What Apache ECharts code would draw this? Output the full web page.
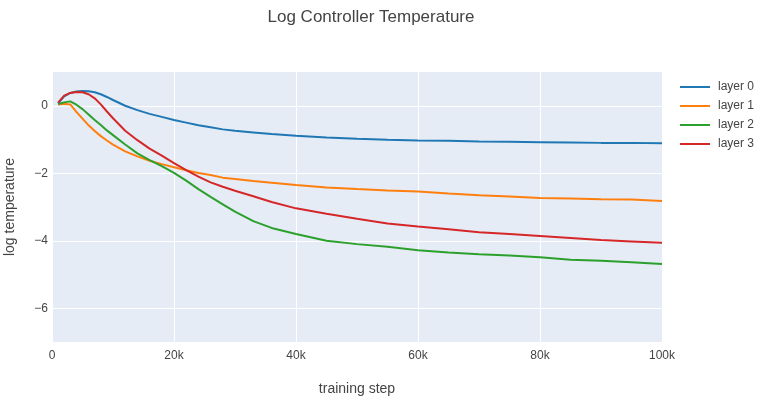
<!DOCTYPE html>
<html>
<head>
	<meta charset="UTF-8">
	<title>Log Controller Temperature</title>
	<script src="https://cdn.jsdelivr.net/npm/echarts@6/dist/echarts.min.js"></script>
	<style>
		html, body { margin: 0; padding: 0; background: #fff; }
		#chart { width: 762px; height: 401px; }
	</style>
</head>
<body>
<div id="chart"></div>
<script type="text/javascript">
// training steps (in thousands)
var stepsK = [1, 2, 3, 4, 5, 6, 7, 8, 9, 10, 12, 14, 16, 18, 20, 22, 24, 26, 28, 30,
	33, 36, 40, 45, 50, 55, 60, 65, 70, 75, 80, 85, 90, 95, 100];

var layer0 = [0.07, 0.28, 0.38, 0.42, 0.44, 0.43, 0.40, 0.34, 0.26, 0.17, 0.0, -0.13, -0.24, -0.33, -0.42, -0.50, -0.58, -0.64, -0.70, -0.74,
	-0.79, -0.84, -0.89, -0.94, -0.98, -1.01, -1.03, -1.04, -1.06, -1.07, -1.08, -1.09, -1.10, -1.10, -1.11];
var layer1 = [0.04, 0.06, 0.04, -0.18, -0.38, -0.58, -0.75, -0.90, -1.03, -1.15, -1.35, -1.50, -1.63, -1.73, -1.82, -1.91, -1.99, -2.05, -2.13, -2.17,
	-2.23, -2.28, -2.35, -2.42, -2.47, -2.51, -2.54, -2.60, -2.65, -2.69, -2.73, -2.75, -2.77, -2.78, -2.82];
var layer2 = [0.05, 0.10, 0.13, 0.03, -0.10, -0.26, -0.42, -0.57, -0.73, -0.87, -1.15, -1.41, -1.61, -1.79, -1.99, -2.22, -2.47, -2.70, -2.92, -3.14,
	-3.42, -3.62, -3.80, -4.00, -4.10, -4.18, -4.28, -4.35, -4.40, -4.44, -4.49, -4.56, -4.59, -4.64, -4.69];
var layer3 = [0.09, 0.30, 0.38, 0.41, 0.40, 0.34, 0.22, 0.04, -0.17, -0.37, -0.74, -1.02, -1.27, -1.48, -1.70, -1.91, -2.10, -2.27, -2.40, -2.52,
	-2.68, -2.85, -3.04, -3.20, -3.35, -3.49, -3.58, -3.66, -3.75, -3.80, -3.86, -3.92, -3.98, -4.02, -4.06];

var layerNames = ["layer 0", "layer 1", "layer 2", "layer 3"];
var layerColors = ["#1f77b4", "#ff7f0e", "#2ca02c", "#d62728"];
var yTicks = [-6, -4, -2, 0];

function pairs(vals) {
	var out = [];
	for (var i = 0; i < stepsK.length; i++) {
		out.push([stepsK[i] * 1000, vals[i]]);
	}
	return out;
}

var allLayers = [layer0, layer1, layer2, layer3];
var series = [];
for (var s = 0; s < allLayers.length; s++) {
	series.push({
		name: layerNames[s],
		type: 'line',
		data: pairs(allLayers[s]),
		symbol: 'none',
		showSymbol: false,
		lineStyle: { width: 2, color: layerColors[s] },
		itemStyle: { color: layerColors[s] }
	});
}

var font = "'Liberation Sans', Arial, sans-serif";
var myChart = echarts.init(document.getElementById('chart'));
var option = {
	animation: false,
	backgroundColor: '#fff',
	title: {
		text: 'Log Controller Temperature',
		left: 366,
		top: 4,
		textAlign: 'center',
		textStyle: { fontFamily: font, fontSize: 17, fontWeight: 'normal', color: '#444' }
	},
	legend: {
		orient: 'vertical',
		left: 675,
		top: 75,
		icon: 'rect',
		itemWidth: 30,
		itemHeight: 2,
		itemGap: 5,
		data: layerNames,
		textStyle: { fontFamily: font, fontSize: 12, color: '#444', lineHeight: 14, padding: [0, 0, 0, 3] }
	},
	grid: {
		left: 52, right: 100, top: 72, bottom: 59,
		outerBoundsMode: 'none',
		containLabel: false,
		show: true,
		backgroundColor: '#E5ECF6',
		borderWidth: 0
	},
	xAxis: {
		type: 'value',
		min: 0, max: 100000, interval: 20000,
		name: 'training step',
		nameLocation: 'middle',
		nameGap: 40,
		nameTextStyle: { fontFamily: font, fontSize: 14, color: '#444' },
		axisLine: { show: false },
		axisTick: { show: false },
		axisLabel: {
			fontFamily: font, fontSize: 12, color: '#444', margin: 8,
			formatter: function (v) { return v === 0 ? '0' : (v / 1000) + 'k'; }
		},
		splitLine: { show: true, lineStyle: { color: '#fff', width: 1 } }
	},
	yAxis: {
		type: 'value',
		min: -7, max: 1,
		name: 'log temperature',
		nameLocation: 'middle',
		nameGap: 35,
		nameTextStyle: { fontFamily: font, fontSize: 14, color: '#444' },
		axisLine: { show: false },
		axisTick: { show: false, customValues: yTicks },
		axisLabel: {
			fontFamily: font, fontSize: 12, color: '#444', margin: 4,
			customValues: yTicks,
			formatter: function (v) { return v < 0 ? '\u2212' + (-v) : String(v); }
		},
		splitLine: { show: true, lineStyle: { color: '#fff', width: 1 } }
	},
	series: series
};
myChart.setOption(option);
</script>
</body>
</html>
